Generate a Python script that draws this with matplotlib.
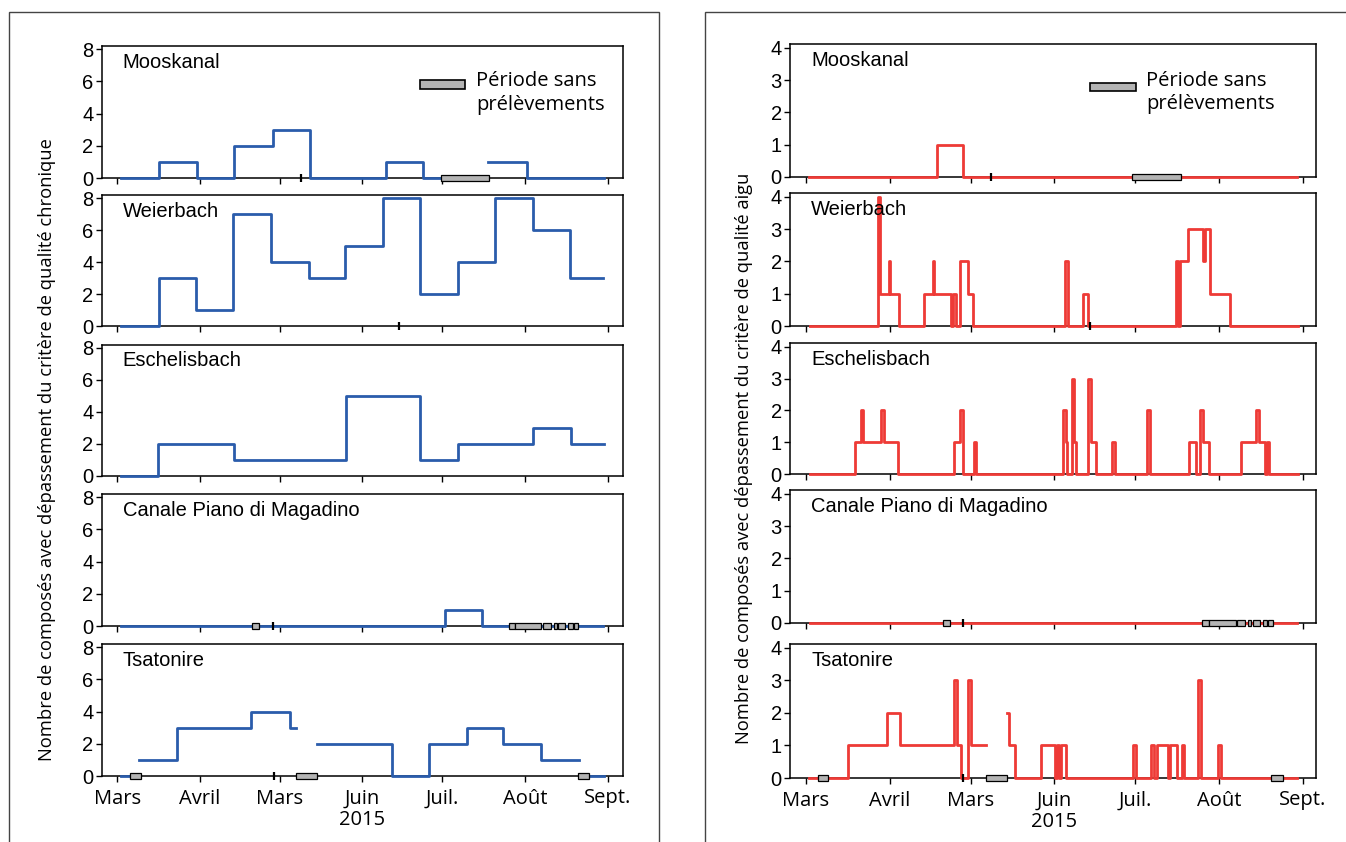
import numpy as np
import matplotlib
matplotlib.use("Agg")
import matplotlib.pyplot as plt
from matplotlib.patches import Rectangle

nan = np.nan

# days counted from 1 March 2015
month_ticks = [0, 31, 61, 92, 122, 153, 184]
month_labels = ['Mars', 'Avril', 'Mars', 'Juin\n2015', 'Juil.', 'Août', 'Sept.']

stations = ['Mooskanal', 'Weierbach', 'Eschelisbach', 'Canale Piano di Magadino', 'Tsatonire']

# ---- chronic criterion (left), biweekly composite samples ----
chron_edges = [
    [1.5, 15.7, 29.9, 43.9, 58.3, 72.4, 100.8, 114.7, 121.0, 139.2, 153.7, 182.6],
    [1.5, 15.5, 29.5, 43.6, 57.5, 71.9, 85.6, 99.8, 113.5, 127.8, 141.8, 156.0, 169.9, 182.4],
    [1.5, 15.4, 43.8, 85.8, 113.6, 127.8, 156.0, 170.3, 182.8],
    [1.5, 122.8, 136.7, 182.4],
    [1.3, 4.8, 8.3, 22.5, 50.3, 64.7, 67.2, 74.8, 103.0, 117.1, 131.1, 144.9, 159.0, 173.2, 177.0, 182.8],
]
chron_values = [
    [0, 1, 0, 2, 3, 0, 1, 0, nan, 1, 0],
    [0, 3, 1, 7, 4, 3, 5, 8, 2, 4, 8, 6, 3],
    [0, 2, 1, 5, 1, 2, 3, 2],
    [0, 1, 0],
    [0, nan, 1, 3, 4, 3, nan, 2, 0, 2, 3, 2, 1, nan, 0],
]

# ---- acute criterion (right), grab samples ----
acute_edges = [
    [1.2, 48.5, 58.1, 120.7, 139.0, 182.0],
    [1.6, 26.7, 27.3, 30.6, 31.3, 34.4, 43.6, 47.0, 47.6, 53.7, 54.3, 55.6, 57.0, 60.2,
     61.8, 96.1, 96.9, 102.7, 104.3, 137.0, 137.8, 138.5, 141.6, 147.2, 147.8, 149.6,
     156.9, 182.3],
    [1.6, 18.3, 20.3, 21.2, 27.9, 28.9, 34.1, 54.7, 57.0, 58.1, 62.2, 63.1, 95.2, 96.3,
     96.7, 98.4, 99.3, 99.9, 104.6, 105.7, 107.6, 113.3, 114.3, 126.3, 127.4, 142.0,
     144.6, 146.1, 147.2, 149.4, 161.1, 166.7, 167.8, 170.1, 170.7, 171.6, 182.3],
    [1.5, 182.0],
    [1.1, 15.7, 29.9, 34.7, 54.7, 55.8, 57.5, 60.2, 61.0, 66.8, 74.4, 75.2, 77.6, 86.9,
     92.2, 92.9, 93.6, 94.5, 96.2, 121.0, 122.2, 127.8, 128.9, 129.9, 134.2, 134.8,
     137.3, 139.1, 140.1, 145.1, 146.2, 152.7, 153.6, 182.0],
]
acute_values = [
    [0, 1, 0, nan, 0],
    [0, 4, 1, 2, 1, 0, 1, 2, 1, 0, 1, 0, 2, 1, 0, 2, 0, 1, 0, 2, 0, 2, 3, 2, 3, 1, 0],
    [0, 1, 2, 1, 2, 1, 0, 1, 2, 0, 1, 0, 2, 1, 0, 3, 1, 0, 3, 1, 0, 1, 0, 2, 0, 1, 0,
     2, 1, 0, 1, 2, 1, 0, 1, 0],
    [0],
    [0, 1, 2, 1, 3, 1, 0, 3, 1, nan, 2, 1, 0, 1, 0, 1, 0, 1, 0, 1, 0, 1, 0, 1, 0, 1, 0,
     1, 0, 3, 0, 1, 0],
]

# periods without sampling (start, end) in days
canale_gaps = [(50.7, 53.2), (146.8, 149.4), (149.4, 159.1), (159.7, 162.6),
               (163.8, 164.9), (165.5, 168.1), (169.2, 170.9), (171.2, 172.9)]
chron_gaps = [[(121.3, 139.5)], [], [], canale_gaps,
              [(4.8, 8.8), (67.0, 75.1), (173.0, 177.1)]]
acute_gaps = [[(120.7, 139.0)], [], [], canale_gaps,
              [(4.6, 8.3), (66.7, 74.6), (172.2, 176.5)]]

# small black marks on the zero line
chron_marks = [69.0, 105.6, None, 58.4, 58.9]
acute_marks = [68.6, 105.2, None, 58.1, 58.3]

W, H = 1346, 842
fig = plt.figure(figsize=(W / 100, H / 100), dpi=100)

blue = '#2a5cab'
red = '#ee3a36'
gray = '#b4b4b4'
tick_font = 'Liberation Sans'
label_font = 'Open Sans'


def px_axes(x0, x1, top, bottom):
    return fig.add_axes([x0 / W, 1 - bottom / H, (x1 - x0) / W, (bottom - top) / H])


left_rows = [(46, 178), (195, 326), (344.5, 475.5), (494, 626), (644, 776)]
right_rows = [(44, 177), (193, 326), (343, 474), (490, 623), (644, 778)]


def draw_panel(ax, edges, values, gaps, mark, color, ymax, yticks, xlim, name, last):
    y = list(values) + [values[-1]]
    ax.step(edges, y, where='post', color=color, lw=2.0, zorder=3, clip_on=False)
    tr = ax.get_xaxis_transform()
    for g0, g1 in gaps:
        ax.add_patch(Rectangle((g0, -0.019), g1 - g0, 0.038, transform=tr,
                               facecolor=gray, edgecolor='black', lw=0.9,
                               zorder=4, clip_on=False))
    if mark is not None:
        ax.plot([mark], [0], marker='|', ms=6, mew=1.6, color='black',
                zorder=5, clip_on=False)
    ax.set_xlim(*xlim)
    ax.set_ylim(0, ymax)
    ax.set_yticks(yticks)
    ax.set_yticklabels([str(v) for v in yticks], fontfamily=tick_font, fontsize=14.5)
    ax.set_xticks(month_ticks)
    if last:
        ax.set_xticklabels(month_labels, fontfamily=label_font, fontsize=14.5,
                           linespacing=1.1)
    else:
        ax.set_xticklabels([])
    ax.tick_params(direction='out', length=4, width=1, pad=2)
    ax.tick_params(axis='x', pad=5)
    for s in ax.spines.values():
        s.set_linewidth(1.1)
    ax.text(0.04, 0.875, name, transform=ax.transAxes, fontfamily=tick_font,
            fontsize=14.5, va='center', ha='left')


for i in range(5):
    t, b = left_rows[i]
    ax = px_axes(101.7, 623, t, b)
    draw_panel(ax, chron_edges[i], chron_values[i], chron_gaps[i], chron_marks[i],
               blue, 8.2, [0, 2, 4, 6, 8], (-5.85, 189.75), stations[i], i == 4)
    if i == 0:
        ax.add_patch(Rectangle((0.61, 0.677), 0.087, 0.063, transform=ax.transAxes,
                               facecolor=gray, edgecolor='black', lw=1.2, zorder=4))
        ax.text(0.718, 0.645, 'Période sans\nprélèvements', transform=ax.transAxes,
                fontfamily=label_font, fontsize=14.5, va='center', ha='left',
                linespacing=1.25)

for i in range(5):
    t, b = right_rows[i]
    ax = px_axes(790, 1316, t, b)
    draw_panel(ax, acute_edges[i], acute_values[i], acute_gaps[i], acute_marks[i],
               red, 4.12, [0, 1, 2, 3, 4], (-5.9, 188.9), stations[i], i == 4)
    if i == 0:
        ax.add_patch(Rectangle((0.570, 0.647), 0.088, 0.06, transform=ax.transAxes,
                               facecolor=gray, edgecolor='black', lw=1.2, zorder=4))
        ax.text(0.677, 0.635, 'Période sans\nprélèvements', transform=ax.transAxes,
                fontfamily=label_font, fontsize=14.5, va='center', ha='left',
                linespacing=1.25)

fig.text(47 / W, 1 - 450 / H,
         'Nombre de composés avec dépassement du critère de qualité chronique',
         rotation=90, ha='center', va='center', fontfamily=label_font, fontsize=13.2)
fig.text(744 / W, 1 - 458 / H,
         'Nombre de composés avec dépassement du critère de qualité aigu',
         rotation=90, ha='center', va='center', fontfamily=label_font, fontsize=13.2)

# outer frames around each half
fig.add_artist(Rectangle((9 / W, -0.1), (659 - 9) / W, 1.1 - 12 / H,
                         transform=fig.transFigure, fill=False, ec='#444444', lw=1.0))
fig.add_artist(Rectangle((705 / W, -0.1), 1.0, 1.1 - 12 / H,
                         transform=fig.transFigure, fill=False, ec='#444444', lw=1.0))

fig.savefig('out.png', dpi=100)
